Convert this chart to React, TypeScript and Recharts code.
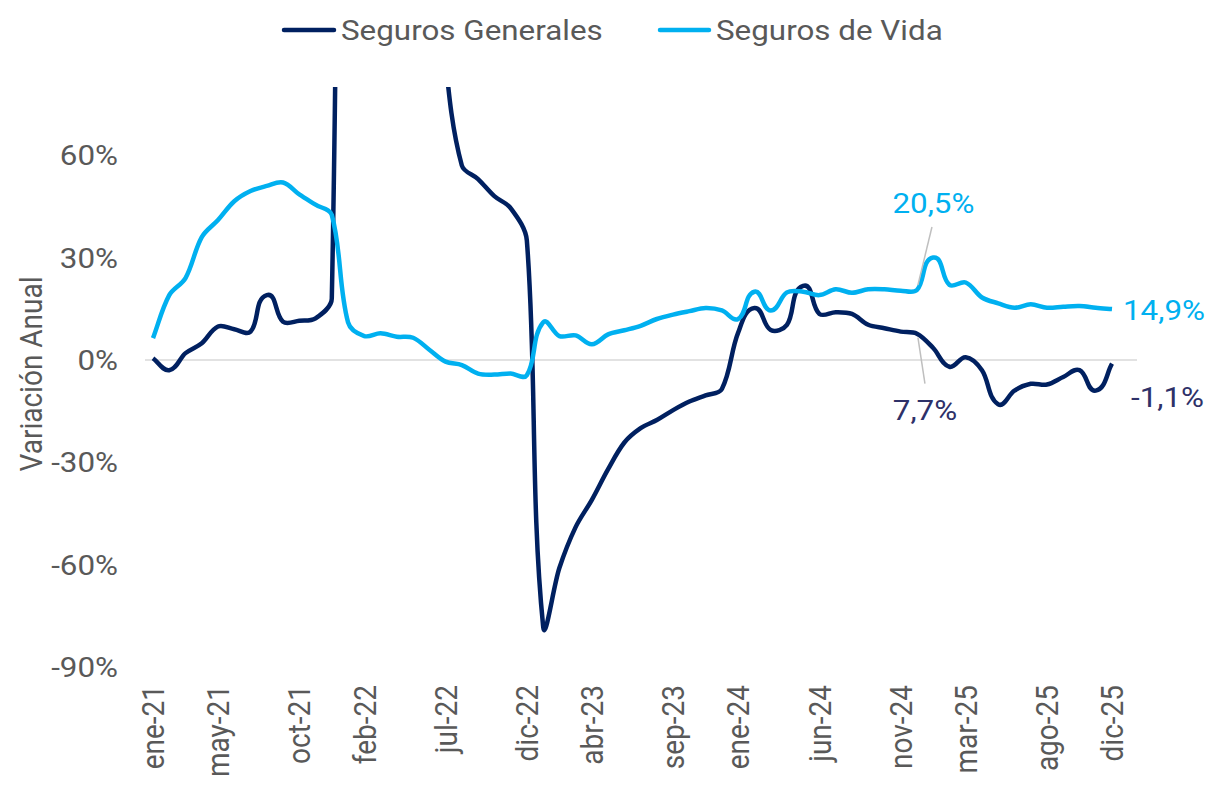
import React from 'react';
import { LineChart, Line, XAxis, YAxis, ReferenceLine, Legend, LabelList } from 'recharts';

// ---------- data ----------
const monthLabels = [
  'ene-21', 'feb-21', 'mar-21', 'abr-21', 'may-21', 'jun-21', 'jul-21', 'ago-21', 'sep-21', 'oct-21', 'nov-21', 'dic-21',
  'ene-22', 'feb-22', 'mar-22', 'abr-22', 'may-22', 'jun-22', 'jul-22', 'ago-22', 'sep-22', 'oct-22', 'nov-22', 'dic-22',
  'ene-23', 'feb-23', 'mar-23', 'abr-23', 'may-23', 'jun-23', 'jul-23', 'ago-23', 'sep-23', 'oct-23', 'nov-23', 'dic-23',
  'ene-24', 'feb-24', 'mar-24', 'abr-24', 'may-24', 'jun-24', 'jul-24', 'ago-24', 'sep-24', 'oct-24', 'nov-24', 'dic-24',
  'ene-25', 'feb-25', 'mar-25', 'abr-25', 'may-25', 'jun-25', 'jul-25', 'ago-25', 'sep-25', 'oct-25', 'nov-25', 'dic-25',
];

const segurosGenerales = [
  0.5, -3, 2, 4.9, 9.8, 9, 8.3, 19, 11.2, 11.5, 12.2, 18,
  480, 470, 440, 380, 280, 160, 88, 57, 53, 48, 44.5, 35,
  -78, -61, -49, -41, -32, -24.2, -20, -17.6, -14.7, -12.2, -10.4, -8.5,
  8, 15.2, 8.8, 10.3, 21.7, 13.5, 14, 13.5, 10.3, 9.3, 8.3, 7.7,
  3.5, -2, 0.8, -3, -13, -9, -7, -7.2, -5, -3, -9, -1.1,
];

const segurosVida = [
  6.4, 19, 24, 36, 41, 46.5, 49.5, 51, 52, 48.5, 45.5, 42.5,
  11, 7, 7.8, 6.8, 6.5, 3, -0.5, -1.5, -4, -4.3, -4, -4.5,
  11, 7, 7.2, 4.6, 7.5, 8.7, 10, 12, 13.3, 14.3, 15.2, 14.5,
  12, 20, 14.5, 19.8, 20, 19, 20.7, 19.7, 20.7, 20.7, 20.3, 20.5,
  30, 22, 22.7, 18.3, 16.6, 15.3, 16.3, 15.3, 15.6, 15.8, 15.3, 14.9,
];

const xTickIndices = [0, 4, 9, 13, 18, 23, 27, 32, 36, 41, 46, 50, 55, 59];
const yTicks = [-90, -60, -30, 0, 30, 60];
const seriesNames = ['Seguros Generales', 'Seguros de Vida'];
const labeledIndices = [47, 59];

const data = monthLabels.map((m, i) => ({
  i,
  mes: m,
  generales: segurosGenerales[i],
  vida: segurosVida[i],
}));

// ---------- style ----------
const FONT = 'Roboto, "Noto Sans", sans-serif';
const SX = 1.12;
const GRAY = '#595959';
const DARK = '#002060';
const LIGHT = '#00B0F0';
const DARK_LABEL = '#2E3168';
const LEADER = '#BFBFBF';

// Excel-like smoothed line (chord-scaled Catmull-Rom)
function smoothCurve(context: any) {
  let pts: number[][] = [];
  let line: number = NaN;
  return {
    areaStart() { line = 0; },
    areaEnd() { line = NaN; },
    lineStart() { pts = []; },
    point(x: number, y: number) { pts.push([+x, +y]); },
    lineEnd() {
      const n = pts.length;
      if (n > 0) {
        if (line) context.lineTo(pts[0][0], pts[0][1]);
        else context.moveTo(pts[0][0], pts[0][1]);
        const unit = (a: number[], b: number[]) => {
          const dx = b[0] - a[0];
          const dy = b[1] - a[1];
          const l = Math.hypot(dx, dy) || 1;
          return [dx / l, dy / l];
        };
        for (let k = 0; k < n - 1; k++) {
          const p0 = pts[Math.max(0, k - 1)];
          const p1 = pts[k];
          const p2 = pts[k + 1];
          const p3 = pts[Math.min(n - 1, k + 2)];
          const len = Math.hypot(p2[0] - p1[0], p2[1] - p1[1]);
          const t1 = unit(p0, p2);
          const t2 = unit(p1, p3);
          const d = len / 3;
          context.bezierCurveTo(
            p1[0] + t1[0] * d, p1[1] + t1[1] * d,
            p2[0] - t2[0] * d, p2[1] - t2[1] * d,
            p2[0], p2[1],
          );
        }
      }
      line = 1 - line;
    },
  };
}

const fmt = (v: number) => `${v.toFixed(1).replace('.', ',')}%`;

const labelSpec: Record<string, Record<number, any>> = {
  vida: {
    47: { dx: 16.5, dy: -77, anchor: 'middle', leader: [1, -5, 15, -63] },
    59: { dx: 11, dy: 11, anchor: 'start' },
  },
  generales: {
    47: { dx: 8, dy: 86, anchor: 'middle', leader: [1, 4, 8, 50] },
    59: { dx: 19, dy: 43, anchor: 'start' },
  },
};

function makeLabel(series: 'vida' | 'generales', color: string) {
  return (props: any) => {
    const index = props.index;
    if (!labeledIndices.includes(index)) return <g />;
    const spec = labelSpec[series][index];
    const px = props.viewBox?.x ?? props.x;
    const py = props.viewBox?.y ?? props.y;
    const v = series === 'vida' ? segurosVida[index] : segurosGenerales[index];
    return (
      <g>
        {spec.leader && (
          <line
            x1={px + spec.leader[0]}
            y1={py + spec.leader[1]}
            x2={px + spec.leader[2]}
            y2={py + spec.leader[3]}
            stroke={LEADER}
            strokeWidth={1.5}
          />
        )}
        <g transform={`translate(${px + spec.dx},${py + spec.dy}) scale(${SX},1)`}>
          <text x={0} y={0} textAnchor={spec.anchor} fill={color} fontSize={28} fontFamily={FONT}>
            {fmt(v)}
          </text>
        </g>
      </g>
    );
  };
}

const YTick = (props: any) => {
  const { x, y, payload } = props;
  return (
    <g transform={`translate(${x},${y}) scale(${SX},1)`}>
      <text x={0} y={0} dy={10} textAnchor="end" fill={GRAY} fontSize={28} fontFamily={FONT}>
        {`${payload.value}%`}
      </text>
    </g>
  );
};

const XTick = (props: any) => {
  const { x, y, payload } = props;
  return (
    <g transform={`translate(${x},${y}) scale(${SX},1) rotate(-90)`}>
      <text x={0} y={0} dy={10} textAnchor="end" fill={GRAY} fontSize={28} fontFamily={FONT}>
        {monthLabels[payload.value]}
      </text>
    </g>
  );
};

const YTitle = (props: any) => {
  const vb = props.viewBox || { x: 65, y: 87, width: 80, height: 580 };
  const cx = vb.x - 34;
  const cy = vb.y + vb.height / 2 - 3;
  return (
    <g transform={`translate(${cx},${cy}) scale(${SX},1) rotate(-90)`}>
      <text x={0} y={0} dy={10} textAnchor="middle" fill={GRAY} fontSize={28} fontFamily={FONT}>
        Variación Anual
      </text>
    </g>
  );
};

const LegendContent = () => (
  <svg width={1209} height={60} style={{ display: 'block' }}>
    <line x1={284} y1={30} x2={334} y2={30} stroke={DARK} strokeWidth={4.5} strokeLinecap="round" />
    <g transform={`translate(341,40) scale(${SX},1)`}>
      <text x={0} y={0} fill={GRAY} fontSize={28} fontFamily={FONT}>{seriesNames[0]}</text>
    </g>
    <line x1={660} y1={30} x2={709} y2={30} stroke={LIGHT} strokeWidth={4.5} strokeLinecap="round" />
    <g transform={`translate(716,40) scale(${SX},1)`}>
      <text x={0} y={0} fill={GRAY} fontSize={28} fontFamily={FONT}>{seriesNames[1]}</text>
    </g>
  </svg>
);

export default function App() {
  return (
    <div style={{ position: 'absolute', left: 0, top: 0, width: 1209, height: 788, background: '#fff' }}>
      <LineChart
        width={1209}
        height={788}
        data={data}
        margin={{ top: 87, right: 72, bottom: 21, left: 65 }}
        style={{ fontFamily: FONT }}
      >
        <ReferenceLine y={0} stroke="#D9D9D9" strokeWidth={1.5} />
        <XAxis
          dataKey="i"
          type="number"
          domain={[-0.492, 60.538]}
          allowDataOverflow
          ticks={xTickIndices}
          interval={0}
          tick={<XTick />}
          tickLine={false}
          axisLine={false}
          tickSize={6}
          tickMargin={12}
          height={100}
        />
        <YAxis
          type="number"
          domain={[-90, 80]}
          allowDataOverflow
          ticks={yTicks}
          interval={0}
          tick={<YTick />}
          tickLine={false}
          axisLine={false}
          tickSize={6}
          tickMargin={21}
          width={80}
          label={(p: any) => <YTitle {...p} />}
        />
        <Legend
          layout="horizontal"
          verticalAlign="middle"
          align="center"
          content={<LegendContent />}
          wrapperStyle={{ top: 0, left: 0, width: 1209, height: 60, margin: 0, padding: 0 }}
        />
        <Line
          dataKey="generales"
          name={seriesNames[0]}
          type={smoothCurve as any}
          stroke={DARK}
          strokeWidth={4.5}
          dot={false}
          activeDot={false}
          isAnimationActive={false}
        >
          <LabelList dataKey="generales" content={makeLabel('generales', DARK_LABEL)} />
        </Line>
        <Line
          dataKey="vida"
          name={seriesNames[1]}
          type={smoothCurve as any}
          stroke={LIGHT}
          strokeWidth={4.5}
          dot={false}
          activeDot={false}
          isAnimationActive={false}
        >
          <LabelList dataKey="vida" content={makeLabel('vida', LIGHT)} />
        </Line>
      </LineChart>
    </div>
  );
}
